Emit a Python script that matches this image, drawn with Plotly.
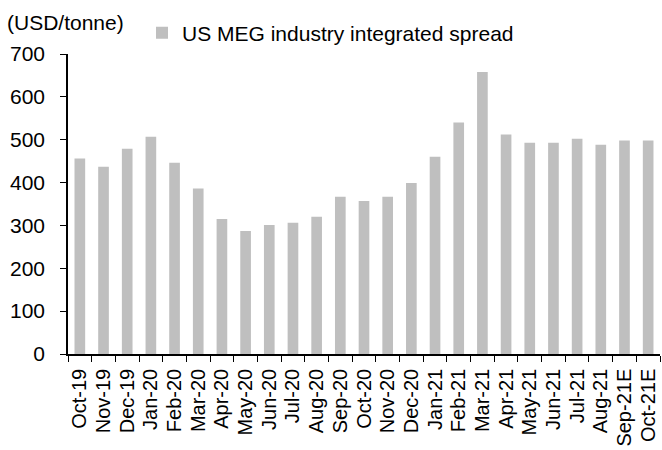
import plotly.graph_objects as go

categories = ["Oct-19", "Nov-19", "Dec-19", "Jan-20", "Feb-20", "Mar-20", "Apr-20", "May-20",
              "Jun-20", "Jul-20", "Aug-20", "Sep-20", "Oct-20", "Nov-20", "Dec-20", "Jan-21",
              "Feb-21", "Mar-21", "Apr-21", "May-21", "Jun-21", "Jul-21", "Aug-21", "Sep-21E", "Oct-21E"]
spread = [456, 437, 479, 507, 446, 386, 315, 287, 301, 306, 320, 367, 357, 367, 399, 460,
          540, 658, 512, 493, 493, 502, 488, 498, 498]
y_ticks = [0, 100, 200, 300, 400, 500, 600, 700]

FONT = "Liberation Sans, Arial, sans-serif"
FS = 21

fig = go.Figure()
fig.add_trace(go.Bar(x=categories, y=spread, name="US MEG industry integrated spread",
                     marker=dict(color="#BFBFBF", line=dict(width=0))))

fig.update_layout(
    width=662, height=450,
    margin=dict(l=68, r=2, t=54, b=96, autoexpand=False),
    paper_bgcolor="white", plot_bgcolor="white",
    font=dict(family=FONT, size=FS, color="black"),
    bargap=0.55,
    showlegend=True,
    legend=dict(orientation="h", x=0.125, xanchor="left", y=1.07, yanchor="middle",
                font=dict(size=FS), itemwidth=30, bgcolor="rgba(0,0,0,0)",
                traceorder="normal"),
    xaxis=dict(type="category", showline=True, linecolor="black", linewidth=1.5,
               tickmode="array", tickvals=categories, ticktext=categories,
               ticks="outside", tickson="boundaries", ticklen=6, tickcolor="black",
               tickangle=-90, ticklabelstandoff=5, showgrid=False,
               tickfont=dict(size=20), automargin=False),
    yaxis=dict(range=[0, 700], tickvals=y_ticks, showline=True, linecolor="black",
               linewidth=1.5, ticks="outside", ticklen=6, tickcolor="black",
               ticklabelstandoff=11, showgrid=False, zeroline=False,
               tickfont=dict(size=FS), automargin=False),
    annotations=[dict(text="(USD/tonne)", xref="paper", yref="paper", x=-0.107, y=1.104,
                      xanchor="left", yanchor="middle", showarrow=False, font=dict(size=FS))],
)

fig.write_html("out.html", config={"displayModeBar": False},
               post_script="document.body.style.margin='0px';")
